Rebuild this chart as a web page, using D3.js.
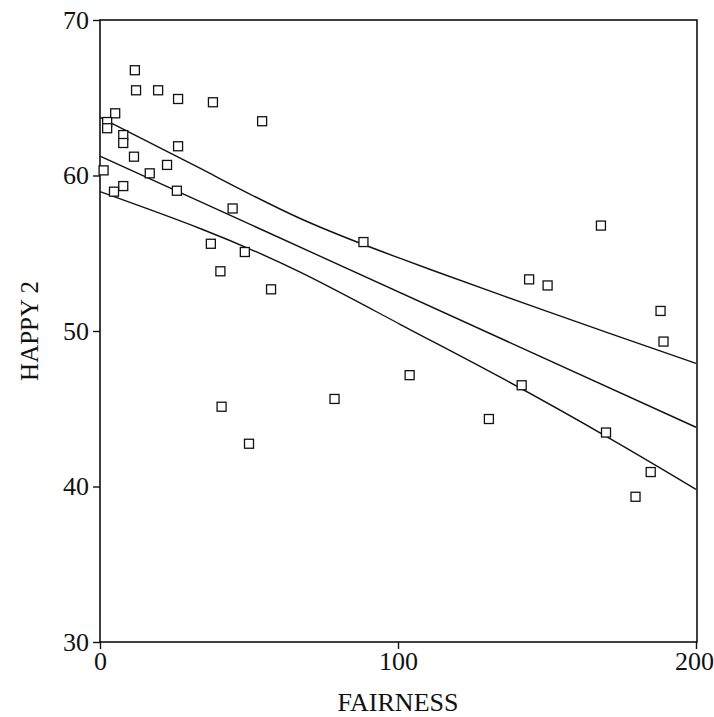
<!DOCTYPE html>
<html>
<head>
<meta charset="utf-8">
<script src="https://cdn.jsdelivr.net/npm/d3@7"></script>
<style>
  body { margin: 0; background: #fff; }
  text { font-family: "Times New Roman", "Liberation Serif", Times, serif; fill: #111; }
</style>
</head>
<body>
<div id="chart"></div>
<script>
/* observed points: FAIRNESS vs HAPPY 2 */
var fairness = [11.7, 12.1, 19.5, 26.2, 37.9, 54.4, 5.1, 2.4, 2.4, 7.8,
  7.8, 26.2, 11.4, 22.5, 1.2, 16.7, 7.8, 4.7, 25.8, 44.5,
  37.2, 48.6, 40.4, 57.4, 40.8, 50.0, 88.4, 78.7, 103.9, 130.5,
  141.5, 144.0, 150.2, 168.1, 169.8, 188.1, 189.1, 184.8, 179.7];
var happy = [66.77, 65.48, 65.48, 64.92, 64.71, 63.49, 64.0, 63.44, 63.04, 62.60,
  62.09, 61.88, 61.21, 60.68, 60.33, 60.14, 59.32, 58.96, 59.02, 57.88,
  55.61, 55.08, 53.84, 52.68, 45.13, 42.75, 55.72, 45.63, 47.16, 44.34,
  46.51, 53.32, 52.93, 56.78, 43.47, 51.29, 49.32, 40.93, 39.34];

/* fitted line and confidence band */
var fitX = [0, 200];
var fitY = [61.25, 43.81];
var bandX = [0, 34, 67, 101, 134, 171, 200];
var upperY = [63.74, 60.42, 57.25, 54.65, 52.35, 49.85, 47.92];
var lowerY = [58.96, 56.56, 53.80, 50.40, 47.06, 43.10, 39.82];

var xTicks = [0, 100, 200];
var yTicks = [30, 40, 50, 60, 70];

var width = 714, height = 717;
var plotLeft = 100, plotRight = 697, plotTop = 20, plotBottom = 642;

var x = d3.scaleLinear().domain([0, 200]).range([plotLeft, 696]);
var y = d3.scaleLinear().domain([30, 70]).range([plotBottom, plotTop]);

var svg = d3.select("#chart").append("svg")
  .attr("width", width)
  .attr("height", height);

/* frame */
svg.append("rect")
  .attr("x", plotLeft)
  .attr("y", plotTop)
  .attr("width", plotRight - plotLeft)
  .attr("height", plotBottom - plotTop)
  .attr("fill", "none")
  .attr("stroke", "#111")
  .attr("stroke-width", 1.6);

/* axes */
var xAxis = d3.axisBottom(x).tickValues(xTicks).tickSize(7).tickPadding(3);
var yAxis = d3.axisLeft(y).tickValues(yTicks).tickSize(7).tickPadding(4);

var gx = svg.append("g")
  .attr("transform", `translate(0, ${plotBottom})`)
  .call(xAxis);
var gy = svg.append("g")
  .attr("transform", `translate(${plotLeft}, 0)`)
  .call(yAxis);

[gx, gy].forEach(function(g) {
  g.attr("font-family", null);
  g.select(".domain").remove();
  g.selectAll("line").attr("stroke", "#111").attr("stroke-width", 1.4);
  g.selectAll("text")
    .style("font-size", "26px")
    .attr("fill", "#111");
});
// keep the last x label inside the page
gx.selectAll(".tick text").filter(d => d === 200).attr("dx", "-2");

/* lines */
var fitLine = d3.line()
  .x(d => x(d[0]))
  .y(d => y(d[1]));

var bandLine = d3.line()
  .curve(d3.curveNatural)
  .x(d => x(d[0]))
  .y(d => y(d[1]));

var lines = svg.append("g")
  .attr("fill", "none")
  .attr("stroke", "#111")
  .attr("stroke-width", 1.4);

lines.append("path").attr("d", fitLine(d3.zip(fitX, fitY)));
lines.append("path").attr("d", bandLine(d3.zip(bandX, upperY)));
lines.append("path").attr("d", bandLine(d3.zip(bandX, lowerY)));

/* square markers */
var s = 9;
svg.append("g")
  .selectAll("rect")
  .data(d3.zip(fairness, happy)).enter()
  .append("rect")
  .attr("x", d => x(d[0]) - s / 2)
  .attr("y", d => y(d[1]) - s / 2)
  .attr("width", s)
  .attr("height", s)
  .attr("fill", "#fff")
  .attr("stroke", "#111")
  .attr("stroke-width", 1.3);

/* axis titles */
svg.append("text")
  .attr("x", 398)
  .attr("y", 711)
  .attr("text-anchor", "middle")
  .style("font-size", "26px")
  .text("FAIRNESS");

svg.append("text")
  .attr("transform", "translate(38, 331) rotate(-90)")
  .attr("text-anchor", "middle")
  .style("font-size", "25px")
  .text("HAPPY 2");
</script>
</body>
</html>
